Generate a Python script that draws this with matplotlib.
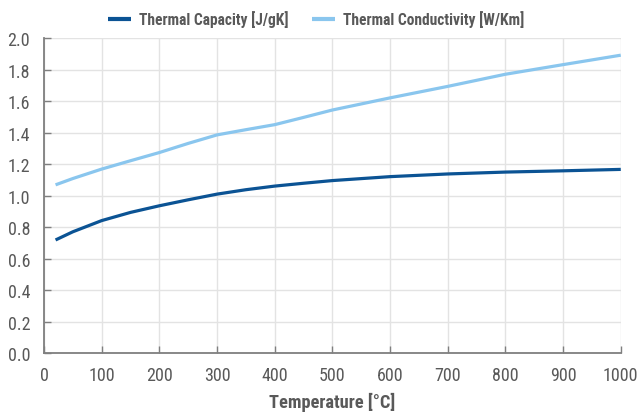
import matplotlib
matplotlib.use('Agg')
import matplotlib.pyplot as plt

plt.rcParams['font.family'] = ['Roboto Condensed', 'Liberation Sans', 'DejaVu Sans']

# 数据
temperature = [20, 50, 100, 150, 200, 250, 300, 350, 400, 450, 500, 600, 700, 800, 900, 1000]
capacity = [0.72, 0.772, 0.843, 0.895, 0.937, 0.975, 1.011, 1.039, 1.062, 1.08, 1.097,
            1.122, 1.139, 1.151, 1.159, 1.168]
conductivity = [1.07, 1.11, 1.17, 1.223, 1.275, 1.333, 1.387, 1.42, 1.452, 1.498, 1.545,
                1.622, 1.695, 1.772, 1.833, 1.893]

xticks = list(range(0, 1001, 100))
yticks = [0.0, 0.2, 0.4, 0.6, 0.8, 1.0, 1.2, 1.4, 1.6, 1.8, 2.0]

text_color = '#595959'
fig = plt.figure(figsize=(6.38, 4.14), dpi=100)
ax = fig.add_axes([0.069, 0.144, 0.904, 0.761])

ax.plot(temperature, capacity, color='#0b5394', lw=2.3, label='Thermal Capacity [J/gK]',
        solid_capstyle='butt')
ax.plot(temperature, conductivity, color='#8ac6ee', lw=2.3, label='Thermal Conductivity [W/Km]',
        solid_capstyle='butt')

ax.set_xlim(0, 1000)
ax.set_ylim(0, 2.0)
ax.set_xticks(xticks)
ax.set_yticks(yticks)
ax.set_yticklabels([f'{v:.1f}' for v in yticks])
ax.grid(True, color='#e3e3e3', lw=1)
ax.set_axisbelow(True)

for s in ['top', 'right']:
    ax.spines[s].set_visible(False)
for s in ['left', 'bottom']:
    ax.spines[s].set_color('#7f7f7f')
    ax.spines[s].set_linewidth(1.3)

ax.tick_params(direction='in', length=5, color='#7f7f7f', width=1,
               labelsize=13, labelcolor=text_color, pad=9)
ax.tick_params(axis='y', pad=10)

ax.set_xlabel('Temperature [°C]', fontsize=13.2, fontweight='bold', color=text_color, labelpad=6)

leg = ax.legend(loc='lower center', bbox_to_anchor=(0.472, 1.0), ncol=2, frameon=False,
                prop={'size': 11.2, 'weight': 'bold'}, handlelength=1.5, handletextpad=0.5,
                columnspacing=1.5, borderaxespad=0.3)
for t in leg.get_texts():
    t.set_color(text_color)
for h in leg.get_lines():
    h.set_linewidth(3)

fig.savefig('out.png', dpi=100)
